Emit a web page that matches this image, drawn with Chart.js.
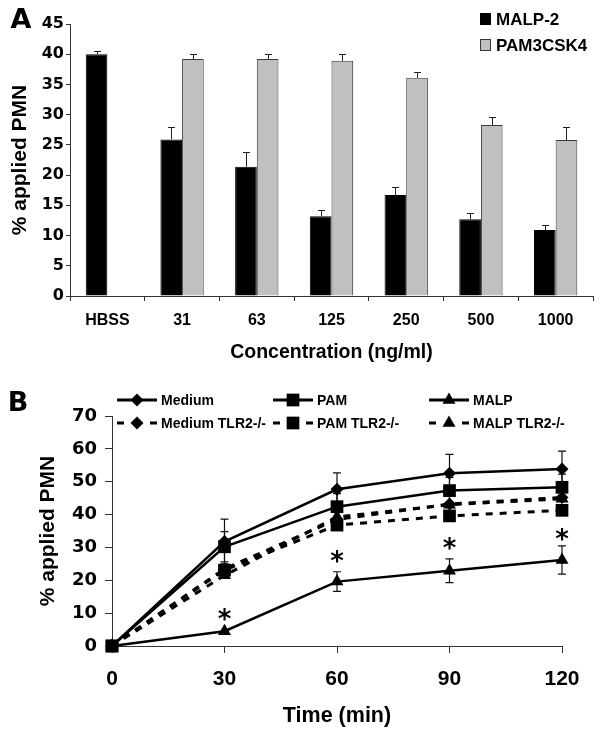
<!DOCTYPE html>
<html><head><meta charset="utf-8">
<script src="https://cdn.jsdelivr.net/npm/chart.js@4/dist/chart.umd.min.js"></script>
<style>
html,body{margin:0;padding:0;background:#fff;width:600px;height:735px;overflow:hidden}
#ca{position:absolute;left:0;top:0}
#cb{position:absolute;left:0;top:370px}
</style></head><body>
<canvas id="ca" width="600" height="370"></canvas>
<canvas id="cb" width="600" height="365"></canvas>
<script>
// ---------- Panel A data ----------
const concLabels = ['HBSS', '31', '63', '125', '250', '500', '1000'];
const malp2Values = [40.0, 25.9, 21.4, 13.2, 16.7, 12.7, 10.9];
const malp2Err    = [0.6, 2.0, 2.4, 1.0, 1.3, 1.0, 0.9];
const pamValues   = [null, 39.2, 39.2, 38.9, 36.1, 28.3, 25.8];
const pamErr      = [null, 0.8, 0.8, 1.2, 1.0, 1.3, 2.1];
const yTicksA = [0, 45, 5];   // min, max, step

// ---------- Panel B data ----------
const times      = [0, 30, 60, 90, 120];
const mediumVals = [0, 31.8, 47.7, 52.6, 53.9];
const mediumErr  = [0, 6.8, 5.0, 5.7, 5.4];
const pamBVals   = [0, 30.2, 42.4, 47.3, 48.3];
const pamBErr    = [0, 4.6, 4.0, 4.0, 4.0];
const malpVals   = [0, 4.5, 19.6, 22.9, 26.2];
const malpErr    = [0, 0, 3.0, 3.6, 4.3];
const mediumKO   = [0, 23.5, 38.5, 43.2, 45.2];
const pamKO      = [0, 23.1, 36.8, 39.6, 41.3];
const malpKO     = [0, 21.5, 39.3, 43.0, 44.8];
const starTimes  = [30, 60, 90, 120];
const starVals   = [10.0, 27.7, 31.7, 34.3];
const yTicksB = [0, 70, 10];
const xTicksB = [0, 120, 30];

const NUM = "'DejaVu Sans', sans-serif";
const ARIAL = "'Liberation Sans', Arial, sans-serif";
const AX = '#333';

function panelLabel(txt) {
  return { id: 'panel' + txt, afterDraw(chart) {
    const c = chart.ctx; c.save();
    c.font = 'bold 27px ' + NUM; c.fillStyle = '#000';
    c.textAlign = 'center'; c.textBaseline = 'middle';
    if (txt === 'A') c.fillText('A', 21, 21); else c.fillText('B', 18, 34);
    c.restore();
  }};
}

const errBarsA = { id: 'errA', afterDatasetsDraw(chart) {
  const c = chart.ctx, ys = chart.scales.y;
  c.save(); c.strokeStyle = '#222'; c.lineWidth = 1;
  chart.data.datasets.forEach((ds, i) => {
    const meta = chart.getDatasetMeta(i);
    meta.data.forEach((bar, j) => {
      const v = ds.data[j], e = ds.errors[j];
      if (v == null || e == null) return;
      const x = Math.round(bar.x) + 0.5, y0 = ys.getPixelForValue(v), y1 = Math.round(ys.getPixelForValue(v + e)) + 0.5;
      c.beginPath(); c.moveTo(x, y0); c.lineTo(x, y1);
      c.moveTo(x - 3.5, y1); c.lineTo(x + 3.5, y1); c.stroke();
    });
  });
  c.restore();
}};

const legendA = { id: 'legA', afterDraw(chart) {
  const c = chart.ctx; c.save();
  const rows = [19, 45];
  chart.data.datasets.forEach((ds, i) => {
    const y = rows[i];
    c.fillStyle = ds.backgroundColor; c.fillRect(480, y - 6, 11, 12);
    c.strokeStyle = ds.borderColor; c.lineWidth = 1; c.strokeRect(480.5, y - 5.5, 10, 11);
    c.fillStyle = '#000'; c.font = 'bold 17px ' + ARIAL; c.textAlign = 'left'; c.textBaseline = 'middle';
    c.fillText(ds.label, 496, y + 1);
  });
  c.restore();
}};

new Chart(document.getElementById('ca'), {
  type: 'bar',
  data: { labels: concLabels, datasets: [
    { label: 'MALP-2', data: malp2Values, errors: malp2Err, backgroundColor: '#000', borderColor: '#000', borderWidth: 1 },
    { label: 'PAM3CSK4', data: pamValues, errors: pamErr, backgroundColor: '#c0c0c0', borderColor: '#3a3a3a', borderWidth: 1 }
  ]},
  options: {
    responsive: false, animation: false,
    layout: { padding: { top: 24, right: 7, left: 0, bottom: 0 } },
    plugins: { legend: { display: false }, tooltip: { enabled: false } },
    datasets: { bar: { categoryPercentage: 0.58, barPercentage: 1.0 } },
    scales: {
      x: {
        grid: { offset: true, drawOnChartArea: false, drawTicks: true, tickLength: 5, color: AX },
        border: { display: true, color: AX, width: 1 },
        ticks: { color: '#000', font: { family: ARIAL, size: 16, weight: 'bold' }, padding: 10, maxRotation: 0, autoSkip: false },
        title: { display: true, text: 'Concentration (ng/ml)', color: '#000', font: { family: ARIAL, size: 19.5, weight: 'bold' }, padding: { top: 0, bottom: 6 } },
        afterFit(s) { s.height = 74; }
      },
      y: {
        min: yTicksA[0], max: yTicksA[1],
        ticks: { stepSize: yTicksA[2], color: '#000', font: { family: NUM, size: 16, weight: 'bold' }, padding: 2 },
        grid: { drawOnChartArea: false, drawTicks: true, tickLength: 4, color: AX },
        border: { display: true, color: AX, width: 1 },
        title: { display: true, text: '% applied PMN', color: '#000', font: { family: ARIAL, size: 21, weight: 'bold' }, padding: { top: 8, bottom: 0 } },
        afterFit(s) { s.width = 70; }
      }
    }
  },
  plugins: [errBarsA, legendA, panelLabel('A')]
});

// ---------- Panel B ----------
function pts(vals) { return times.map((t, i) => ({ x: t, y: vals[i] })); }

function marker(c, style, x, y, r) {
  c.beginPath();
  if (style === 'rectRot') { c.moveTo(x - r, y); c.lineTo(x, y - r); c.lineTo(x + r, y); c.lineTo(x, y + r); }
  else if (style === 'rect') { const s = r * Math.SQRT1_2; c.rect(x - s, y - s, 2 * s, 2 * s); }
  else if (style === 'triangle') { c.moveTo(x, y - r); c.lineTo(x + 0.866 * r, y + 0.5 * r); c.lineTo(x - 0.866 * r, y + 0.5 * r); }
  c.closePath(); c.fill();
}

const errBarsB = { id: 'errB', beforeDatasetsDraw(chart) {
  const c = chart.ctx, xs = chart.scales.x, ys = chart.scales.y;
  c.save(); c.strokeStyle = '#111'; c.lineWidth = 1.2;
  chart.data.datasets.forEach(ds => {
    if (!ds.errors) return;
    ds.data.forEach((p, j) => {
      const e = ds.errors[j]; if (!e) return;
      const x = xs.getPixelForValue(p.x), yt = ys.getPixelForValue(p.y + e), yb = ys.getPixelForValue(p.y - e);
      c.beginPath(); c.moveTo(x, yt); c.lineTo(x, yb);
      c.moveTo(x - 4, yt); c.lineTo(x + 4, yt); c.moveTo(x - 4, yb); c.lineTo(x + 4, yb); c.stroke();
    });
  });
  c.restore();
}};

const starsB = { id: 'stars', afterDatasetsDraw(chart) {
  const c = chart.ctx, xs = chart.scales.x, ys = chart.scales.y;
  c.save(); c.fillStyle = '#000'; c.font = 'bold 26px ' + NUM; c.textAlign = 'center'; c.textBaseline = 'alphabetic';
  starTimes.forEach((t, i) => c.fillText('*', xs.getPixelForValue(t), ys.getPixelForValue(starVals[i]) + 15));
  c.restore();
}};

const legendB = { id: 'legB', afterDraw(chart) {
  const c = chart.ctx; c.save();
  const cols = [117, 273, 429], rows = [30, 53];
  chart.data.datasets.forEach((ds, i) => {
    const col = cols[i % 3], row = rows[Math.floor(i / 3)];
    c.strokeStyle = '#000'; c.fillStyle = '#000'; c.lineWidth = 3;
    c.beginPath();
    if (ds.borderDash && ds.borderDash.length) {
      c.moveTo(col, row); c.lineTo(col + 7, row); c.moveTo(col + 33, row); c.lineTo(col + 40, row);
    } else { c.moveTo(col, row); c.lineTo(col + 40, row); }
    c.stroke();
    marker(c, ds.pointStyle, col + 20, row, ds.pointRadius);
    c.font = 'bold 14px ' + ARIAL; c.textAlign = 'left'; c.textBaseline = 'middle';
    c.fillText(ds.label, col + 44, row + 1);
  });
  c.restore();
}};

function lineDs(label, vals, style, r, dashed, errs) {
  return { label, data: pts(vals), errors: errs || null, pointStyle: style, pointRadius: r,
    pointBackgroundColor: '#000', pointBorderWidth: 0, borderColor: '#000', backgroundColor: '#000',
    borderWidth: dashed ? 3 : 2.5, borderDash: dashed ? [7, 7] : [], tension: 0, fill: false, clip: false };
}

new Chart(document.getElementById('cb'), {
  type: 'line',
  data: { datasets: [
    lineDs('Medium', mediumVals, 'rectRot', 6.5, false, mediumErr),
    lineDs('PAM', pamBVals, 'rect', 9, false, pamBErr),
    lineDs('MALP', malpVals, 'triangle', 7.5, false, malpErr),
    lineDs('Medium TLR2-/-', mediumKO, 'rectRot', 6.5, true),
    lineDs('PAM TLR2-/-', pamKO, 'rect', 9, true),
    lineDs('MALP TLR2-/-', malpKO, 'triangle', 7.5, true)
  ]},
  options: {
    responsive: false, animation: false,
    layout: { padding: { top: 46, right: 38, left: 0, bottom: 0 } },
    plugins: { legend: { display: false }, tooltip: { enabled: false } },
    scales: {
      x: {
        type: 'linear', min: xTicksB[0], max: xTicksB[1],
        ticks: { stepSize: xTicksB[2], color: '#000', font: { family: ARIAL, size: 21, weight: 'bold' }, padding: 14, maxRotation: 0 },
        grid: { drawOnChartArea: false, drawTicks: true, tickLength: 7, color: AX },
        border: { display: true, color: AX, width: 1 },
        title: { display: true, text: 'Time (min)', color: '#000', font: { family: ARIAL, size: 21.5, weight: 'bold' }, padding: { top: 0, bottom: 6 } },
        afterFit(s) { s.height = 89; }
      },
      y: {
        min: yTicksB[0], max: yTicksB[1],
        ticks: { stepSize: yTicksB[2], color: '#000', font: { family: NUM, size: 18, weight: 'bold' }, padding: 8 },
        grid: { drawOnChartArea: false, drawTicks: true, tickLength: 7, color: AX },
        border: { display: true, color: AX, width: 1 },
        title: { display: true, text: '% applied PMN', color: '#000', font: { family: ARIAL, size: 21, weight: 'bold' }, padding: { top: 36, bottom: 0 } },
        afterFit(s) { s.width = 112; }
      }
    }
  },
  plugins: [errBarsB, starsB, legendB, panelLabel('B')]
});
</script>
</body></html>
